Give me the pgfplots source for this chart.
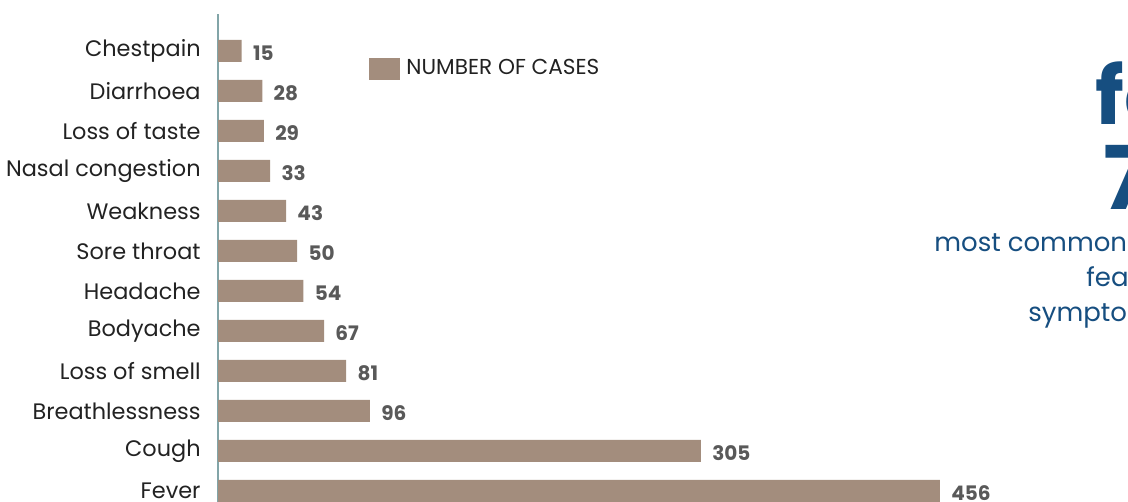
\documentclass[border=0pt]{standalone}
\usepackage{fontspec}
\setmainfont{Poppins}
\usepackage{pgfplots}
\pgfplotsset{compat=1.18}
\definecolor{barcol}{RGB}{163,141,125}
\definecolor{valcol}{RGB}{89,89,89}
\definecolor{axcol}{RGB}{130,165,168}
\definecolor{txtcol}{RGB}{34,34,34}
\definecolor{blu}{RGB}{22,78,128}
\begin{document}
\begin{tikzpicture}[x=0.5pt,y=0.5pt]
% page = 1128 x 502 px, 1 px = 0.5pt, origin bottom left
\path[use as bounding box, clip] (0,0) rectangle (1128,502);
\begin{axis}[
  at={(109pt,0pt)}, anchor=south west,
  scale only axis, width=455pt, height=244pt,
  xmin=0, xmax=574.8, ymin=-0.275, ymax=11.925,
  xbar, bar width=11pt,
  axis x line=none,
  axis y line*=left,
  y axis line style={draw=axcol, line width=0.6pt, -},
  major tick length=0pt,
  /pgf/number format/assume math mode=true,
  ytick={0,...,11},
  yticklabels={Fever,Cough,Breathlessness,Loss of smell,Bodyache,Headache,Sore throat,Weakness,Nasal congestion,Loss of taste,Diarrhoea,Chestpain},
  yticklabel style={font=\fontsize{11.2}{13}\selectfont, text=txtcol, inner sep=0pt, xshift=-8.5pt},
  nodes near coords,
  every node near coord/.append style={font=\fontsize{10}{11}\selectfont\bfseries, text=valcol, inner sep=0pt, xshift=5.5pt, yshift=-1pt, anchor=west},
  legend style={at={(0.166,0.888)}, anchor=west, draw=none, fill=none, inner sep=0pt,
    font=\fontsize{10.8}{12}\selectfont, text=txtcol, row sep=0pt},
  legend image code/.code={\fill[barcol] (0pt,-5.5pt) rectangle (15.5pt,5.5pt);},
  legend cell align=left,
]
\addplot[fill=barcol, draw=none] coordinates {
 (456,0) (305,1) (96,2) (81,3) (67,4) (54,5) (50,6) (43,7) (33,8) (29,9) (28,10) (15,11)};
\addlegendentry{\hspace{1pt}NUMBER OF CASES}
\end{axis}
\node[anchor=base west, text=blu, font=\fontsize{40}{40}\selectfont\bfseries, inner sep=0pt] at (1095,377) {fe};
\node[anchor=base west, text=blu, font=\fontsize{44}{44}\selectfont\bfseries, inner sep=0pt] at (1103,292) {7};
\node[anchor=base west, text=blu, font=\fontsize{13}{15}\selectfont, inner sep=0pt] at (934,250) {most common};
\node[anchor=base west, text=blu, font=\fontsize{13}{15}\selectfont, inner sep=0pt] at (1086,215) {feat};
\node[anchor=base west, text=blu, font=\fontsize{13}{15}\selectfont, inner sep=0pt] at (1028,180) {sympto};
\end{tikzpicture}
\end{document}
